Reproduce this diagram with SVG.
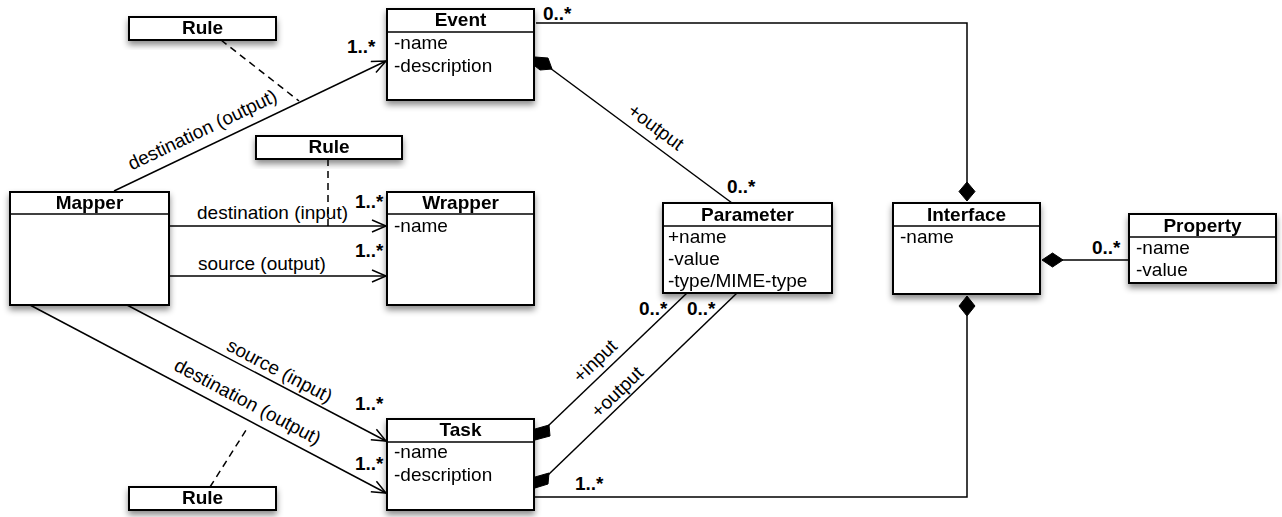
<svg xmlns="http://www.w3.org/2000/svg" width="1282" height="517" viewBox="0 0 1282 517">
<style>
.box{fill:#fff;stroke:#000;stroke-width:2}
.sep{stroke:#000;stroke-width:1.6}
.t{font-family:"Liberation Sans",Arial,sans-serif;font-size:19px;fill:#000}
.b{font-family:"Liberation Sans",Arial,sans-serif;font-size:19px;font-weight:bold;fill:#000}
.c{text-anchor:middle}
.ln{fill:none;stroke:#000;stroke-width:1.5}
.dash{fill:none;stroke:#000;stroke-width:1.5;stroke-dasharray:7,5}
.dia{fill:#000;stroke:#000;stroke-width:1}
</style>
<defs>
<filter id="sh" x="-20%" y="-20%" width="140%" height="160%">
<feDropShadow dx="0" dy="4" stdDeviation="3" flood-color="#000" flood-opacity="0.45"/>
</filter>
<marker id="arr" markerUnits="userSpaceOnUse" markerWidth="18" markerHeight="16" refX="15" refY="7" orient="auto">
<path d="M1,1 L15,7 L1,13" fill="none" stroke="#000" stroke-width="1.5"/>
</marker>
</defs>

<g id="connectors">
<!-- Mapper to Event -->
<line class="ln" x1="114" y1="191" x2="386" y2="61" marker-end="url(#arr)"/>
<text class="t c" transform="translate(203,131) rotate(-25.5)" y="5">destination (output)</text>
<text class="b" x="347" y="53">1..*</text>
<!-- Mapper to Wrapper -->
<line class="ln" x1="169" y1="226" x2="386" y2="226" marker-end="url(#arr)"/>
<text class="t" x="197" y="219">destination (input)</text>
<text class="b" x="355" y="208">1..*</text>
<line class="ln" x1="169" y1="276" x2="386" y2="276" marker-end="url(#arr)"/>
<text class="t" x="198" y="270">source (output)</text>
<text class="b" x="355" y="257">1..*</text>
<!-- Mapper to Task -->
<line class="ln" x1="127" y1="305" x2="386" y2="441" marker-end="url(#arr)"/>
<text class="t c" transform="translate(279,372) rotate(27.6)" y="5">source (input)</text>
<text class="b" x="355" y="410">1..*</text>
<line class="ln" x1="30" y1="305" x2="386" y2="493" marker-end="url(#arr)"/>
<text class="t c" transform="translate(247,403) rotate(27.8)" y="5">destination (output)</text>
<text class="b" x="355" y="470">1..*</text>
<!-- Rule dashes -->
<line class="dash" x1="221" y1="40" x2="299" y2="101"/>
<line class="dash" x1="328" y1="159" x2="328" y2="226"/>
<line class="dash" x1="210" y1="487" x2="248" y2="427"/>
<!-- Event to Interface -->
<polyline class="ln" points="536,23 967,23 967,183"/>
<polygon class="dia" points="967,182 975,191.5 967,201 959,191.5"/>
<text class="b" x="543" y="20">0..*</text>
<!-- Event to Parameter -->
<line class="ln" x1="550" y1="68" x2="732" y2="203"/>
<polygon class="dia" points="535,57 548,58 552,69 540,70 535,66"/>
<text class="t c" transform="translate(655,128) rotate(36.7)" y="5">+output</text>
<text class="b" x="727" y="193">0..*</text>
<!-- Task to Parameter -->
<line class="ln" x1="548" y1="426" x2="687" y2="293"/>
<polygon class="dia" points="535,429 549,425 550,436 535,440"/>
<text class="t c" transform="translate(596,362) rotate(-43.7)" y="5">+input</text>
<text class="b" x="639" y="315">0..*</text>
<line class="ln" x1="548" y1="475" x2="737" y2="293"/>
<polygon class="dia" points="535,477 549,473 548,484 535,488"/>
<text class="t c" transform="translate(618,393) rotate(-44)" y="5">+output</text>
<text class="b" x="687" y="315">0..*</text>
<!-- Task to Interface -->
<polyline class="ln" points="534,497 967,497 967,316"/>
<polygon class="dia" points="967,296 975,306 967,316 959,306"/>
<text class="b" x="575" y="490">1..*</text>
<!-- Interface to Property -->
<line class="ln" x1="1062" y1="260" x2="1129" y2="260"/>
<polygon class="dia" points="1042,260 1052.5,253 1063,260 1052.5,267"/>
<text class="b" x="1092" y="254">0..*</text>
</g>

<g id="rule1" filter="url(#sh)">
<rect class="box" x="129" y="17" width="147" height="23"/>
<text class="b c" x="202.5" y="34">Rule</text>
</g>
<g id="rule2" filter="url(#sh)">
<rect class="box" x="256" y="136" width="146" height="23"/>
<text class="b c" x="329" y="153">Rule</text>
</g>
<g id="rule3" filter="url(#sh)">
<rect class="box" x="129" y="487" width="147" height="23"/>
<text class="b c" x="202.5" y="504">Rule</text>
</g>

<g id="event" filter="url(#sh)">
<rect class="box" x="387" y="9" width="147" height="91"/>
<line class="sep" x1="387" y1="32" x2="534" y2="32"/>
<text class="b c" x="460.5" y="26">Event</text>
<text class="t" x="394" y="49">-name</text>
<text class="t" x="394" y="72">-description</text>
</g>

<g id="mapper" filter="url(#sh)">
<rect class="box" x="10" y="192" width="159" height="113"/>
<line class="sep" x1="10" y1="214" x2="169" y2="214"/>
<text class="b c" x="89.5" y="209">Mapper</text>
</g>

<g id="wrapper" filter="url(#sh)">
<rect class="box" x="387" y="192" width="147" height="113"/>
<line class="sep" x1="387" y1="214" x2="534" y2="214"/>
<text class="b c" x="460.5" y="209">Wrapper</text>
<text class="t" x="394" y="232">-name</text>
</g>

<g id="parameter" filter="url(#sh)">
<rect class="box" x="663" y="203" width="169" height="90"/>
<line class="sep" x1="663" y1="226" x2="832" y2="226"/>
<text class="b c" x="747.5" y="221">Parameter</text>
<text class="t" x="668" y="243">+name</text>
<text class="t" x="668" y="265">-value</text>
<text class="t" x="668" y="287">-type/MIME-type</text>
</g>

<g id="task" filter="url(#sh)">
<rect class="box" x="387" y="419" width="147" height="91"/>
<line class="sep" x1="387" y1="442" x2="534" y2="442"/>
<text class="b c" x="460.5" y="436">Task</text>
<text class="t" x="394" y="458">-name</text>
<text class="t" x="394" y="481">-description</text>
</g>

<g id="interface" filter="url(#sh)">
<rect class="box" x="893" y="203" width="147" height="91"/>
<line class="sep" x1="893" y1="226" x2="1040" y2="226"/>
<text class="b c" x="966.5" y="221">Interface</text>
<text class="t" x="900" y="243">-name</text>
</g>

<g id="property" filter="url(#sh)">
<rect class="box" x="1129" y="214" width="147" height="69"/>
<line class="sep" x1="1129" y1="237" x2="1276" y2="237"/>
<text class="b c" x="1202.5" y="232">Property</text>
<text class="t" x="1136" y="254">-name</text>
<text class="t" x="1136" y="276">-value</text>
</g>
</svg>
